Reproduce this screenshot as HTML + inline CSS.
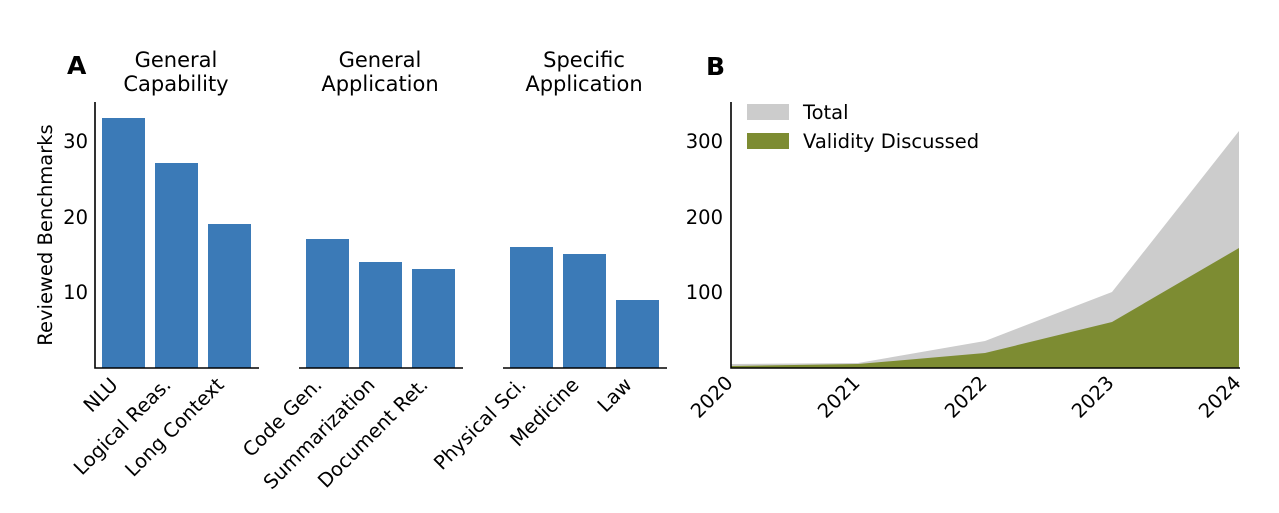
<!DOCTYPE html>
<html><head><style>body{margin:0;background:#fff}svg{display:block;font-family:"DejaVu Sans","Liberation Sans",sans-serif}</style></head><body>
<svg width="1279" height="513" viewBox="0 0 1279 513">
<g font-size="19.5" fill="#000">
<text x="67" y="74" font-size="25" font-weight="bold">A</text>
<text x="706" y="75" font-size="25" font-weight="bold">B</text>
<g font-size="21" text-anchor="middle">
<text x="176" y="67">General</text><text x="176" y="91">Capability</text>
<text x="380" y="67">General</text><text x="380" y="91">Application</text>
<text x="584" y="67">Specific</text><text x="584" y="91">Application</text>
</g>
<text transform="translate(52,235) rotate(-90)" text-anchor="middle">Reviewed Benchmarks</text>
<g text-anchor="end">
<text x="88" y="148">30</text><text x="88" y="224">20</text><text x="88" y="299">10</text>
<text x="723" y="148">300</text><text x="723" y="224">200</text><text x="723" y="299">100</text>
</g>
<g fill="#3b7ab7">
<rect x="102" y="118" width="43" height="250"/>
<rect x="155" y="163" width="43" height="205"/>
<rect x="208" y="224" width="43" height="144"/>
<rect x="306" y="239" width="43" height="129"/>
<rect x="359" y="262" width="43" height="106"/>
<rect x="412" y="269" width="43" height="99"/>
<rect x="510" y="247" width="43" height="121"/>
<rect x="563" y="254" width="43" height="114"/>
<rect x="616" y="300" width="43" height="68"/>
</g>
<g stroke="#000" stroke-width="1.6" fill="none">
<path d="M95,102V368H259"/>
<path d="M299,368H463"/>
<path d="M503,368H667"/>
</g>
<g text-anchor="end">
<text transform="translate(119,386) rotate(-45)">NLU</text>
<text transform="translate(172,386) rotate(-45)">Logical Reas.</text>
<text transform="translate(225,386) rotate(-45)">Long Context</text>
<text transform="translate(323,386) rotate(-45)">Code Gen.</text>
<text transform="translate(376,386) rotate(-45)">Summarization</text>
<text transform="translate(429,386) rotate(-45)">Document Ret.</text>
<text transform="translate(527,386) rotate(-45)">Physical Sci.</text>
<text transform="translate(580,386) rotate(-45)">Medicine</text>
<text transform="translate(633,386) rotate(-45)">Law</text>
<text transform="translate(734,384) rotate(-45)">2020</text>
<text transform="translate(861,384) rotate(-45)">2021</text>
<text transform="translate(988,384) rotate(-45)">2022</text>
<text transform="translate(1115,384) rotate(-45)">2023</text>
<text transform="translate(1242,384) rotate(-45)">2024</text>
</g>
<path d="M731,364L858,363L985,341L1112,292L1239,131V368H731Z" fill="#cccccc"/>
<path d="M731,366L858,364L985,353L1112,322L1239,248V368H731Z" fill="#7d8c32"/>
<path d="M731,102V368H1240" stroke="#000" stroke-width="1.6" fill="none"/>
<rect x="747" y="104" width="42" height="16" fill="#cccccc"/>
<rect x="747" y="133" width="42" height="16" fill="#7d8c32"/>
<text x="803" y="119">Total</text>
<text x="803" y="148">Validity Discussed</text>
</g>
</svg>
</body></html>
